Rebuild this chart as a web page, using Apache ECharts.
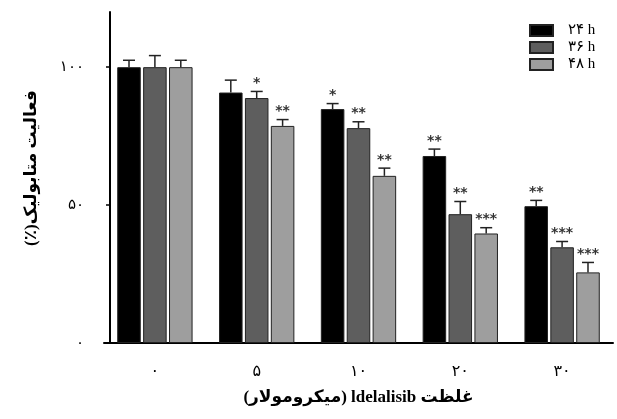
<!DOCTYPE html>
<html>
<head>
<meta charset="utf-8">
<script src="https://cdn.jsdelivr.net/npm/echarts@6/dist/echarts.min.js"></script>
<style>html,body{margin:0;padding:0;background:#fff}#c{width:617px;height:419px}</style>
</head>
<body>
<div id="c"></div>
<script>
const categories = ['۰', '۵', '۱۰', '۲۰', '۳۰'];
const seriesNames = ['۲۴ h', '۳۶ h', '۴۸ h'];
const values24 = [100, 90.8, 84.8, 67.8, 49.6];
const values36 = [100, 88.8, 77.9, 46.7, 34.7];
const values48 = [100, 78.7, 60.6, 39.7, 25.6];
const err24 = [2.5, 4.5, 2.0, 2.5, 2.1];
const err36 = [4.2, 2.4, 2.3, 4.6, 2.1];
const err48 = [2.5, 2.3, 2.8, 2.1, 3.6];
const sig24 = ['', '', '*', '**', '**'];
const sig36 = ['', '*', '**', '**', '***'];
const sig48 = ['', '**', '**', '***', '***'];
const yTicks = [0, 50, 100];
const yTickLabels = ['۰', '۵۰', '۱۰۰'];
const yTitle = 'فعالیت متابولیک(٪)';
const xTitle = 'غلظت ldelalisib (میکرومولار)';

const colors = ['#000000', '#5e5e5e', '#9e9e9e'];
const allValues = [values24, values36, values48];
const allErr = [err24, err36, err48];
const allSig = [sig24, sig36, sig48];
const CAT_GAP = 0.26, BAR_GAP = 0.10;
const FONT = '"Liberation Serif", "DejaVu Sans", serif';
const RLE = '\u202B', PDF = '\u202C';

const chart = echarts.init(document.getElementById('c'), null, {renderer: 'canvas'});

const barSeries = seriesNames.map((n, k) => ({
  name: n,
  type: 'bar',
  data: allValues[k],
  barCategoryGap: (CAT_GAP * 100) + '%',
  barGap: (BAR_GAP * 100) + '%',
  itemStyle: {color: colors[k], borderColor: '#222', borderWidth: 1},
  emphasis: {disabled: true},
  z: 2
}));

const errSeries = seriesNames.map((n, k) => ({
  name: 'err' + k,
  type: 'custom',
  z: 3,
  silent: true,
  data: allValues[k].map((v, i) => [i, v, allErr[k][i]]),
  renderItem: function (params, api) {
    const cat = api.value(0), v = api.value(1), e = api.value(2);
    const sig = allSig[k][cat];
    const top = api.coord([cat, v]);
    const cap = api.coord([cat, v + e]);
    const bw = api.size([1, 0])[0];
    const barW = bw * (1 - CAT_GAP) / (3 + 2 * BAR_GAP);
    const x = top[0] + (k - 1) * barW * (1 + BAR_GAP);
    const half = 6;
    const st = {stroke: '#222', lineWidth: 1.5};
    const children = [
      {type: 'line', shape: {x1: x, y1: top[1], x2: x, y2: cap[1]}, style: st},
      {type: 'line', shape: {x1: x - half, y1: cap[1], x2: x + half, y2: cap[1]}, style: st}
    ];
    if (sig) {
      children.push({type: 'text', style: {x: x, y: cap[1] - 1, text: sig, fill: '#333',
        font: 'bold 14px "DejaVu Sans", sans-serif', align: 'center', verticalAlign: 'bottom'}});
    }
    return {type: 'group', children: children};
  }
}));

chart.setOption({
  animation: false,
  grid: {left: 104, right: 4, top: 12, bottom: 76},
  legend: {
    data: seriesNames,
    orient: 'vertical',
    left: 529,
    top: 22,
    padding: 0,
    itemWidth: 23,
    itemHeight: 11,
    itemGap: 0,
    icon: 'rect',
    textStyle: {fontFamily: FONT, fontSize: 15, lineHeight: 17, color: '#000', padding: [0, 0, 0, 10]}
  },
  xAxis: {
    type: 'category',
    data: categories,
    axisLine: {lineStyle: {color: '#000', width: 2}},
    axisTick: {alignWithLabel: true, length: 4, lineStyle: {color: '#000', width: 1.5}},
    axisLabel: {fontFamily: FONT, fontSize: 16, color: '#000', margin: 21},
    name: RLE + xTitle + PDF,
    nameLocation: 'middle',
    nameGap: 46,
    nameTextStyle: {fontFamily: FONT, fontSize: 17, fontWeight: 'bold', color: '#000'}
  },
  yAxis: {
    type: 'value',
    min: 0,
    max: 120,
    offset: -6,
    splitLine: {show: false},
    axisLine: {show: true, lineStyle: {color: '#000', width: 2}},
    axisTick: {show: true, length: 4, customValues: yTicks, lineStyle: {color: '#000', width: 1.5}},
    axisLabel: {
      customValues: yTicks,
      fontFamily: FONT, fontSize: 15, color: '#000', margin: 26,
      formatter: function (v) { const i = yTicks.indexOf(v); return i >= 0 ? yTickLabels[i] : ''; }
    }
  },
  graphic: [{
    type: 'text',
    x: 32, y: 168,
    rotation: Math.PI / 2,
    style: {text: RLE + yTitle + PDF, fill: '#000', font: 'bold 17px ' + FONT,
      align: 'center', verticalAlign: 'middle'}
  }],
  series: barSeries.concat(errSeries)
});
</script>
</body>
</html>
